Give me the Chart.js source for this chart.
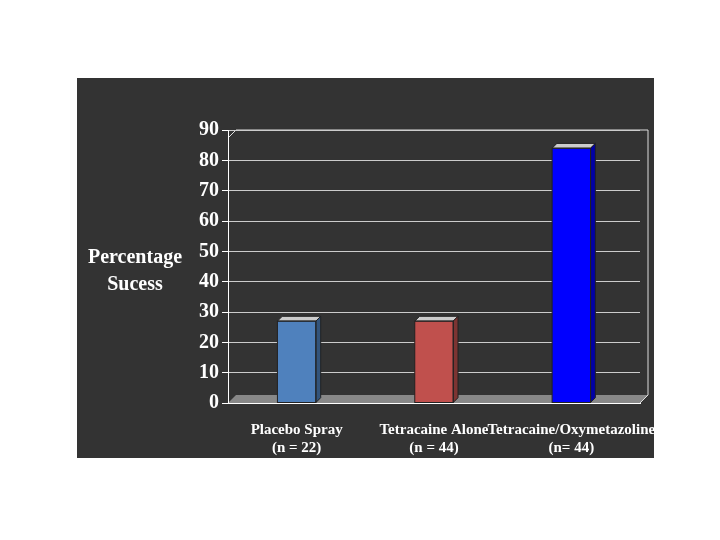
<!DOCTYPE html>
<html><head><script src="https://cdn.jsdelivr.net/npm/chart.js"></script>
<style>body{margin:0;background:#fff}#w{width:720px;height:540px}</style></head>
<body><div id="w"><canvas id="c"></canvas></div>
<script>
const categories=[["Placebo Spray","(n = 22)"],["Tetracaine Alone","(n = 44)"],["Tetracaine/Oxymetazoline","(n= 44)"]];
const values=[27,27,84];
const colors=['#4F81BD','#C0504D','#0000FF'];
const D=8;
const deco={id:'deco',
beforeDraw(ch){const c=ch.ctx,a=ch.chartArea;c.save();c.fillStyle='#333';c.fillRect(77,78,577,380);
c.fillStyle='#888';c.beginPath();c.moveTo(a.left,a.bottom);c.lineTo(a.right,a.bottom);c.lineTo(a.right+D,a.bottom-D);c.lineTo(a.left+D,a.bottom-D);c.closePath();c.fill();
c.strokeStyle='#ddd';c.lineWidth=1;c.beginPath();c.moveTo(a.left,a.top+D);c.lineTo(a.left+D,a.top);c.lineTo(a.right+D,a.top);c.lineTo(a.right+D,a.bottom-D);c.lineTo(a.right,a.bottom);c.stroke();
c.fillStyle='#fff';c.font='bold 20px "Liberation Serif"';c.textAlign='center';c.fillText('Percentage',135,263);c.fillText('Sucess',135,290);c.restore();},
afterDatasetsDraw(ch){const c=ch.ctx;ch.getDatasetMeta(0).data.forEach((b,i)=>{const l=b.x-b.width/2,r=b.x+b.width/2,t=b.y,bt=b.base;c.save();c.strokeStyle='#222';c.lineWidth=1;
c.fillStyle='#ccc';c.beginPath();c.moveTo(l,t);c.lineTo(l+D*0.6,t-D*0.6);c.lineTo(r+D*0.6,t-D*0.6);c.lineTo(r,t);c.closePath();c.fill();c.stroke();
c.fillStyle=colors[i];c.beginPath();c.moveTo(r,t);c.lineTo(r+D*0.6,t-D*0.6);c.lineTo(r+D*0.6,bt-D*0.6);c.lineTo(r,bt);c.closePath();c.fill();c.fillStyle='rgba(0,0,0,0.35)';c.fill();c.stroke();
c.strokeRect(l,t,b.width,bt-t);c.restore();});}};
new Chart(document.getElementById('c'),{type:'bar',
data:{labels:categories,datasets:[{data:values,backgroundColor:colors,borderWidth:0,barPercentage:0.28,categoryPercentage:1}]},
options:{responsive:true,maintainAspectRatio:false,animation:false,
layout:{padding:{left:178,top:130,right:80,bottom:82}},
plugins:{legend:{display:false},tooltip:{enabled:false}},
scales:{y:{min:0,max:90,afterFit(s){s.width=50;},ticks:{stepSize:10,color:'#fff',font:{family:'Liberation Serif',size:20,weight:'bold'}},grid:{color:'#ccc',tickColor:'#fff',tickLength:6},border:{color:'#fff'}},
x:{afterFit(s){s.height=55;},ticks:{autoSkip:false,color:'#fff',font:{family:'Liberation Serif',size:15,weight:'bold'},maxRotation:0,minRotation:0,padding:10},grid:{display:false},border:{color:'#fff'}}}},
plugins:[deco]});
</script></body></html>
